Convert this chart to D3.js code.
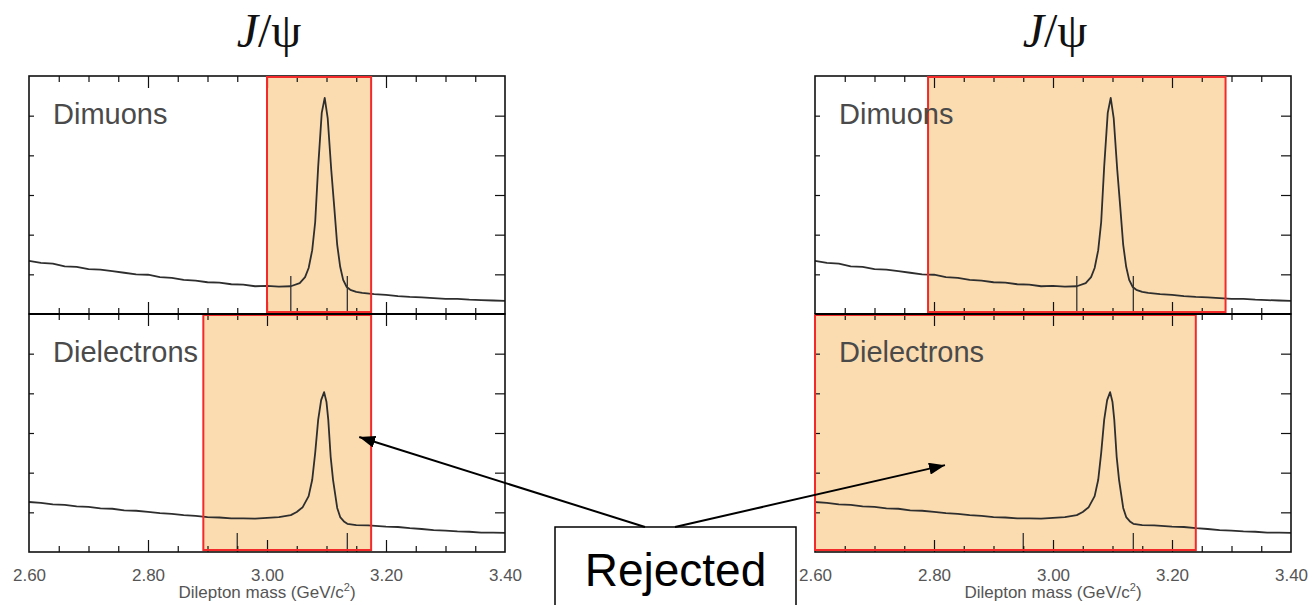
<!DOCTYPE html>
<html>
<head>
<meta charset="utf-8">
<script src="https://cdn.jsdelivr.net/npm/d3@7"></script>
<style>
  html, body { margin: 0; padding: 0; background: #fff; }
  svg { display: block; }
</style>
</head>
<body>
<script>
// Dilepton invariant-mass spectra around the J/psi, dimuon and dielectron channels
const massDimuon = [2.60,2.62,2.64,2.66,2.68,2.70,2.72,2.74,2.76,2.78,2.80,2.82,2.84,2.86,2.88,2.90,2.92,2.94,2.96,2.98,3.00,3.02,3.04,3.055,3.064,3.070,3.076,3.081,3.086,3.092,3.097,3.102,3.108,3.113,3.118,3.123,3.128,3.134,3.140,3.15,3.16,3.18,3.20,3.22,3.24,3.26,3.28,3.30,3.32,3.34,3.36,3.38,3.40];
const countsDimuon = [1.34,1.29,1.27,1.20,1.19,1.13,1.12,1.08,1.04,1.00,0.99,0.93,0.91,0.86,0.84,0.80,0.79,0.75,0.74,0.70,0.71,0.69,0.70,0.78,0.93,1.16,1.61,2.32,3.71,5.07,5.45,4.94,3.63,2.70,1.74,1.19,0.86,0.68,0.61,0.56,0.53,0.50,0.48,0.45,0.43,0.42,0.40,0.38,0.38,0.36,0.35,0.34,0.33];

const massDielectron = [2.60,2.62,2.64,2.66,2.68,2.70,2.72,2.74,2.76,2.78,2.80,2.82,2.84,2.86,2.88,2.90,2.92,2.94,2.96,2.98,3.00,3.02,3.04,3.05,3.06,3.07,3.076,3.081,3.086,3.091,3.096,3.100,3.103,3.107,3.111,3.118,3.123,3.130,3.135,3.15,3.17,3.20,3.22,3.24,3.26,3.28,3.30,3.32,3.34,3.36,3.38,3.40];
const countsDielectron = [1.26,1.24,1.20,1.19,1.15,1.14,1.10,1.09,1.05,1.04,1.01,0.98,0.96,0.93,0.91,0.88,0.87,0.85,0.85,0.84,0.86,0.88,0.93,1.01,1.13,1.41,1.82,2.50,3.33,3.83,4.03,3.78,3.33,2.40,1.82,1.11,0.88,0.76,0.71,0.68,0.67,0.64,0.63,0.60,0.58,0.55,0.54,0.52,0.51,0.49,0.49,0.48];

// Rejected mass windows [low, high] for each column and channel
const cutLeftDimuon = [3.00, 3.175];
const cutLeftDielectron = [2.893, 3.175];
const cutRightDimuon = [2.79, 3.29];
const cutRightDielectron = [2.60, 3.24];

// Signal-region marker positions
const markersDimuon = [3.04, 3.135];
const markersDielectron = [2.95, 3.135];

const massDomain = [2.60, 3.40];
const countDomain = [0, 6];
const tickLabels = ["2.60", "2.80", "3.00", "3.20", "3.40"];
const panelLabels = ["Dimuons", "Dielectrons"];
const titleParts = ["J", "/\u03C8"];
const axisTitle = "Dilepton mass (GeV/c";
const noteText = "Rejected";

// ---------- layout ----------
const W = 1314, H = 605;
const colX = [29, 815];
const panelW = 476;
const rowY = [[76, 314], [314, 552]];

const svg = d3.select("body").append("svg").attr("width", W).attr("height", H);

svg.append("defs").append("marker")
  .attr("id", "arrowhead")
  .attr("viewBox", "0 0 16 12")
  .attr("refX", 16).attr("refY", 6)
  .attr("markerUnits", "userSpaceOnUse")
  .attr("markerWidth", 16).attr("markerHeight", 12)
  .attr("orient", "auto")
  .append("path").attr("d", "M0,0 L16,6 L0,12 Z").attr("fill", "#000");

const series = [
  { mass: massDimuon, counts: countsDimuon, markers: markersDimuon, markLen: 0.96 },
  { mass: massDielectron, counts: countsDielectron, markers: markersDielectron, markLen: 0.48 }
];
const cuts = [[cutLeftDimuon, cutLeftDielectron], [cutRightDimuon, cutRightDielectron]];

const xScales = colX.map(x0 => d3.scaleLinear().domain(massDomain).range([x0, x0 + panelW]));
const yScales = rowY.map(([t, b]) => d3.scaleLinear().domain(countDomain).range([b, t]));

const tickColor = "#111";
function tickGroup(g, axis) {
  g.call(axis);
  g.select(".domain").remove();
  g.selectAll(".tick line").attr("stroke", tickColor).attr("stroke-width", 1.2);
}

colX.forEach((x0, ci) => {
  const x = xScales[ci];
  const all16 = x.ticks(16).filter(v => v > 2.61 && v < 3.39);
  const major = x.ticks(4).filter(v => v > 2.61 && v < 3.39);
  const minorOnly = all16.filter(v => !major.some(m => Math.abs(m - v) < 1e-6));

  series.forEach((s, ri) => {
    const y = yScales[ri];
    const [top, bot] = rowY[ri];
    const cut = cuts[ci][ri];
    const g = svg.append("g");

    // rejected window fill
    g.append("rect")
      .attr("x", x(cut[0])).attr("y", top)
      .attr("width", x(cut[1]) - x(cut[0])).attr("height", bot - top)
      .attr("fill", "#fbdcb0");

    // spectrum
    const line = d3.line().x((d, i) => x(s.mass[i])).y(d => y(d));
    g.append("path").datum(s.counts)
      .attr("d", line)
      .attr("fill", "none")
      .attr("stroke", "#2e2e2e")
      .attr("stroke-width", 1.8)
      .attr("stroke-linejoin", "round");

    // signal-region markers
    g.selectAll("line.marker").data(s.markers).join("line")
      .attr("class", "marker")
      .attr("x1", d => x(d)).attr("x2", d => x(d))
      .attr("y1", y(0)).attr("y2", y(s.markLen))
      .attr("stroke", "#333").attr("stroke-width", 1.3);

    // ticks: bottom and top edges, inward
    tickGroup(g.append("g").attr("transform", `translate(0,${bot})`),
      d3.axisBottom(x).tickValues(minorOnly).tickSize(-6).tickFormat(""));
    tickGroup(g.append("g").attr("transform", `translate(0,${bot})`),
      d3.axisBottom(x).tickValues(major).tickSize(-12).tickFormat(""));
    tickGroup(g.append("g").attr("transform", `translate(0,${top})`),
      d3.axisTop(x).tickValues(minorOnly).tickSize(-6).tickFormat(""));
    tickGroup(g.append("g").attr("transform", `translate(0,${top})`),
      d3.axisTop(x).tickValues(major).tickSize(-12).tickFormat(""));
    const yt = y.ticks(6).filter(v => v > 0 && v < 6);
    tickGroup(g.append("g").attr("transform", `translate(${x0},0)`),
      d3.axisLeft(y).tickValues(yt).tickSize(-5).tickFormat(""));
    tickGroup(g.append("g").attr("transform", `translate(${x0 + panelW},0)`),
      d3.axisRight(y).tickValues(yt).tickSize(-10).tickFormat(""));

    // frame
    g.append("rect")
      .attr("x", x0).attr("y", top).attr("width", panelW).attr("height", bot - top)
      .attr("fill", "none").attr("stroke", "#111").attr("stroke-width", 1.6);

    // rejected window outline
    g.append("rect")
      .attr("x", x(cut[0])).attr("y", top + 1)
      .attr("width", x(cut[1]) - x(cut[0])).attr("height", bot - top - 3)
      .attr("fill", "none").attr("stroke", "#f22a2a").attr("stroke-width", 2);

    // channel label
    g.append("text")
      .attr("x", x0 + 24).attr("y", top + 48)
      .attr("font-family", "Liberation Sans, Arial, sans-serif")
      .attr("font-size", 29)
      .attr("fill", "#4a4a4a")
      .text(panelLabels[ri]);
  });

  // shared divider between the two panels
  svg.append("line")
    .attr("x1", x0).attr("x2", x0 + panelW)
    .attr("y1", rowY[0][1]).attr("y2", rowY[0][1])
    .attr("stroke", "#000").attr("stroke-width", 2.2);

  // mass axis labels
  const la = svg.append("g").attr("transform", `translate(0,${rowY[1][1]})`);
  la.call(d3.axisBottom(x).tickValues(x.ticks(4)).tickSize(0).tickPadding(17)
    .tickFormat((d, i) => tickLabels[i]));
  la.select(".domain").remove();
  la.selectAll("text")
    .attr("font-family", "Liberation Sans, Arial, sans-serif")
    .attr("font-size", 17)
    .attr("fill", "#555");

  const at = svg.append("text")
    .attr("x", x0 + panelW / 2).attr("y", 598)
    .attr("text-anchor", "middle")
    .attr("font-family", "Liberation Sans, Arial, sans-serif")
    .attr("font-size", 17)
    .attr("fill", "#555");
  at.append("tspan").text(axisTitle);
  at.append("tspan").attr("font-size", 11).attr("dy", -7).text("2");
  at.append("tspan").attr("dy", 7).text(")");

  // title
  const tt = svg.append("text")
    .attr("x", x0 + panelW / 2 + 2).attr("y", 47)
    .attr("text-anchor", "middle")
    .attr("font-family", "Liberation Serif, Times New Roman, serif")
    .attr("font-size", 48)
    .attr("fill", "#111");
  tt.append("tspan").attr("font-style", "italic").text(titleParts[0]);
  tt.append("tspan").text(titleParts[1]);
});

// "Rejected" call-out with arrows into the vetoed windows
const box = { x: 555, y: 527, w: 241 };
svg.append("rect")
  .attr("x", box.x).attr("y", box.y).attr("width", box.w).attr("height", 100)
  .attr("fill", "#fff").attr("stroke", "#000").attr("stroke-width", 1.5);
svg.append("text")
  .attr("x", box.x + box.w / 2).attr("y", 586)
  .attr("text-anchor", "middle")
  .attr("font-family", "Liberation Sans, Arial, sans-serif")
  .attr("font-size", 46)
  .attr("fill", "#000")
  .text(noteText);

const arrowTargets = [
  { col: 0, mass: 3.155, count: 2.9, from: [645, 527] },
  { col: 1, mass: 2.8185, count: 2.19, from: [675, 527] }
];
arrowTargets.forEach(a => {
  svg.append("line")
    .attr("x1", a.from[0]).attr("y1", a.from[1])
    .attr("x2", xScales[a.col](a.mass)).attr("y2", yScales[1](a.count))
    .attr("stroke", "#000").attr("stroke-width", 2)
    .attr("marker-end", "url(#arrowhead)");
});
</script>
</body>
</html>
